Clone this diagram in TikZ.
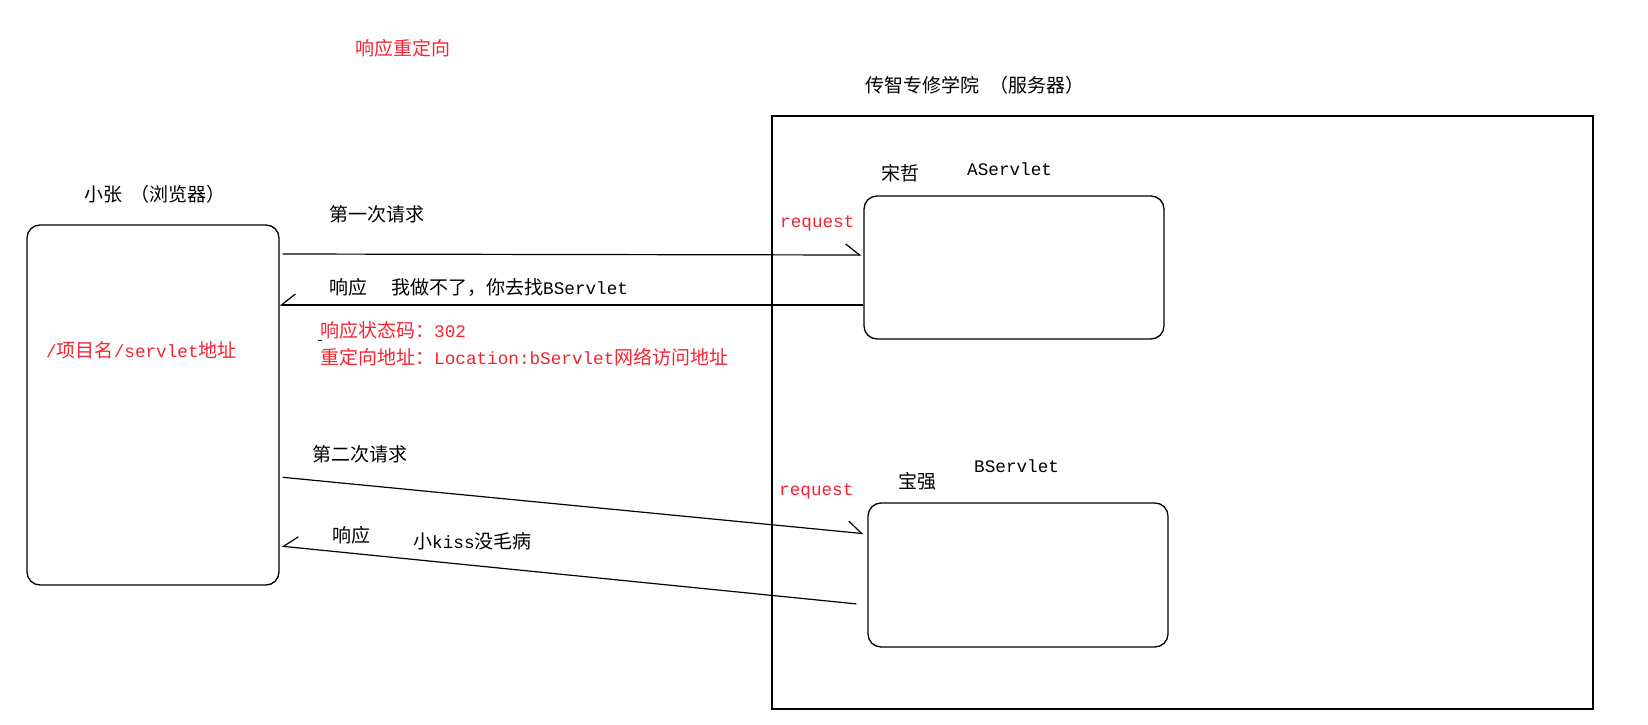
\documentclass[tikz,border=0pt]{standalone}
\usepackage{fontspec}
\setmainfont{Noto Sans CJK SC}
\setmonofont{Liberation Mono}[Scale=0.93]
\usetikzlibrary{arrows.meta}
\definecolor{notered}{RGB}{245,35,50}
\tikzset{
  every node/.style={font=\fontsize{19}{23}\selectfont, inner sep=0pt},
  txt/.style={anchor=west},
  redtxt/.style={anchor=west, text=notered},
  pane/.style={draw, line width=1.3pt, rounded corners=13pt},
  req/.style={line width=1.2pt, -{Straight Barb[harpoon, length=14pt, width=22pt]}},
  resp/.style={line width=1.2pt, -{Straight Barb[harpoon, swap, length=14pt, width=22pt]}}
}
\begin{document}
\begin{tikzpicture}[x=1pt, y=-1pt]
            \useasboundingbox (0,0) rectangle (1648,725);
            \node[pane, minimum width=252pt, minimum height=360pt] (browser) at (153,405) {};
            \node[draw, line width=1.3pt, minimum width=821pt, minimum height=593pt] (server) at (1182.5,412.5) {};
            \node[pane, minimum width=300pt, minimum height=143pt] (aserv) at (1014,267.5) {};
            \node[pane, minimum width=300pt, minimum height=144pt] (bserv) at (1018,575) {};
            \node[redtxt] (title) at (355,48) {响应重定向};
            \node[txt] (srvname) at (865,85) {传智专修学院\hspace{10pt}（服务器）};
            \node[txt] (brname) at (84,194) {小张\hspace{8pt}（浏览器）};
            \node[txt] (aowner) at (881,173) {宋哲};
            \node[txt] (aname) at (967,169) {\ttfamily AServlet};
            \node[txt] (bowner) at (898,481) {宝强};
            \node[txt] (bname) at (974,466) {\ttfamily BServlet};
            \node[redtxt] (reqa) at (780,223) {\ttfamily request};
            \node[redtxt] (reqb) at (779,491) {\ttfamily request};
            \node[redtxt] (path) at (46,350) {\ttfamily /\rmfamily 项目名\ttfamily /servlet\rmfamily 地址};
            \node[txt] (first) at (329,214) {第一次请求};
            \node[txt] (reply1) at (329,287) {响应\hspace{24pt}我做不了，你去找\texttt{BServlet}};
            \node[redtxt] (status) at (320,330) {响应状态码：\texttt{302}};
            \node[redtxt] (location) at (320,357) {重定向地址：\texttt{Location:bServlet}网络访问地址};
            \node[txt] (second) at (312,454) {第二次请求};
            \node[txt] (reply2) at (332,535) {响应};
            \node[txt] (reply2msg) at (413,541) {小\texttt{kiss}没毛病};
            \draw[req, shorten <=3pt, shorten >=2pt] (browser.east |- 0,254) -- (aserv.west |- 0,255);
            \draw[resp] (aserv.west |- 0,305) -- (browser.east |- 0,305);
            \draw[req, shorten <=3pt, shorten >=4pt] (browser.east |- 0,477) -- (bserv.west |- 0,534);
            \draw[resp, shorten <=11pt, shorten >=2pt] (bserv.west |- 0,605) -- (browser.east |- 0,546);
            \draw[line width=1pt] (318,340) -- (322,340);
        \end{tikzpicture}
\end{document}
